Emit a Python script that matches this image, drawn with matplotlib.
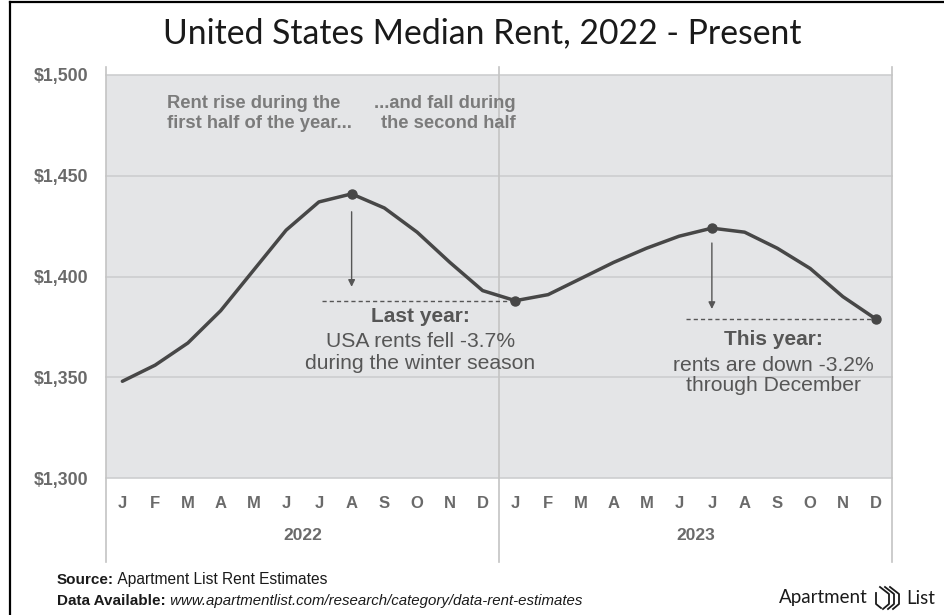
import matplotlib
matplotlib.use("Agg")
import matplotlib.pyplot as plt
from matplotlib.lines import Line2D
from matplotlib import font_manager

# Datos
MONTHS = ["J", "F", "M", "A", "M", "J", "J", "A", "S", "O", "N", "D"]
YEARS = ["2022", "2023"]
RENT_2022 = [1348, 1356, 1367, 1383, 1403, 1423, 1437, 1441, 1434, 1422, 1407, 1393]
RENT_2023 = [1388, 1391, 1399, 1407, 1414, 1420, 1424, 1422, 1414, 1404, 1390, 1379]
Y_TICKS = [1300, 1350, 1400, 1450, 1500]
Y_LABELS = ["$1,300", "$1,350", "$1,400", "$1,450", "$1,500"]

W, H = 944, 615
BG = "#e4e5e7"
GRID = "#cdcecf"
TICK_C = "#6a6a6a"
NOTE_C = "#7b7b7b"
TEXT_C = "#565656"
LINE_C = "#474747"

names = {f.name for f in font_manager.fontManager.ttflist}
SANS = "Liberation Sans"
NARROW = "Liberation Sans Narrow" if "Liberation Sans Narrow" in names else SANS
TITLE_F = "Lato"

rent = RENT_2022 + RENT_2023
x = list(range(len(rent)))
labels = MONTHS * 2

fig = plt.figure(figsize=(W / 100, H / 100), dpi=100)
ax = fig.add_axes([106 / W, 1 - 478 / H, 786 / W, 403 / H])
ax.set_facecolor(BG)
ax.set_xlim(-0.5, 23.5)
ax.set_ylim(1300, 1500)
for s in ax.spines.values():
    s.set_visible(False)

ax.set_yticks(Y_TICKS)
ax.set_yticklabels(Y_LABELS, fontfamily=SANS, fontweight="bold", fontsize=12.8, color=TICK_C)
ax.set_xticks(x)
ax.set_xticklabels(labels, fontfamily=SANS, fontweight="bold", fontsize=12, color=TICK_C)
ax.tick_params(axis="both", length=0)
ax.tick_params(axis="y", pad=13)
ax.tick_params(axis="x", pad=13)
for yv in Y_TICKS:
    ax.axhline(yv, color=GRID, lw=1.2, zorder=1, clip_on=False)

# Líneas verticales de separación (se salen del área del gráfico)
tr = ax.get_xaxis_transform()
for xv in [-0.5, 11.5, 23.5]:
    ax.plot([xv, xv], [(478 - 67) / 403, (478 - 562) / 403], transform=tr,
            color="#c4c4c4", lw=1.2, clip_on=False, zorder=2)

for i, yr in enumerate(YEARS):
    ax.text(5.5 + 12 * i, (478 - 535) / 403, yr, transform=tr, ha="center", va="center",
            fontfamily=SANS, fontweight="bold", fontsize=12.5, color=TICK_C)

# Serie
ax.plot(x, rent, color=LINE_C, lw=2.5, solid_joinstyle="round", solid_capstyle="round", zorder=4)
marks = [7, 12, 18, 23]
ax.plot(marks, [rent[i] for i in marks], "o", color=LINE_C, ms=6.5, zorder=5)

# Flechas y líneas punteadas
ax.annotate("", xy=(7, 1393.5), xytext=(7, 1433.5),
            arrowprops=dict(arrowstyle="-|>", color=TEXT_C, lw=1, mutation_scale=10), zorder=3)
ax.annotate("", xy=(18, 1382.5), xytext=(18, 1418),
            arrowprops=dict(arrowstyle="-|>", color=TEXT_C, lw=1, mutation_scale=10), zorder=3)
ax.plot([6.1, 12], [rent[12], rent[12]], color=TEXT_C, lw=1, ls=(0, (3, 2.2)), zorder=3)
ax.plot([17.2, 23], [rent[23], rent[23]], color=TEXT_C, lw=1, ls=(0, (3, 2.2)), zorder=3)

# Textos
ax.text(1.36, 1481, "Rent rise during the\nfirst half of the year...", ha="left", va="center",
        fontfamily=SANS, fontweight="bold", fontsize=13.2, color=NOTE_C, linespacing=1.25)
ax.text(12.02, 1481, "...and fall during\nthe second half", ha="right", va="center",
        fontfamily=SANS, fontweight="bold", fontsize=13.2, color=NOTE_C, linespacing=1.25)

ax.text(9.1, 1380, "Last year:", ha="center", va="center",
        fontfamily=SANS, fontweight="bold", fontsize=15, color=TEXT_C)
ax.text(9.1, 1362.3, "USA rents fell -3.7%\nduring the winter season", ha="center", va="center",
        fontfamily=SANS, fontsize=15.2, color=TEXT_C, linespacing=1.15)
ax.text(19.88, 1368.6, "This year:", ha="center", va="center",
        fontfamily=SANS, fontweight="bold", fontsize=15, color=TEXT_C)
ax.text(19.88, 1351, "rents are down -3.2%\nthrough December", ha="center", va="center",
        fontfamily=SANS, fontsize=15.2, color=TEXT_C, linespacing=1.05)

# Título
fig.text(482 / W, 1 - 33 / H, "United States Median Rent, 2022 - Present", ha="center", va="center",
         fontfamily=TITLE_F, fontsize=24.3, color="#1a1a1a")

# Pie de página
t1 = fig.text(57 / W, 1 - 584 / H, "Source:", ha="left", va="baseline",
              fontfamily=NARROW, fontweight="bold", fontsize=11, color="#1a1a1a")
ax.annotate(" Apartment List Rent Estimates", xy=(1, 0), xycoords=t1, va="bottom",
            fontfamily=NARROW, fontsize=11.2, color="#1a1a1a", annotation_clip=False)
t2 = fig.text(57 / W, 1 - 605 / H, "Data Available:", ha="left", va="baseline",
              fontfamily=NARROW, fontweight="bold", fontsize=11, color="#1a1a1a")
ax.annotate(" www.apartmentlist.com/research/category/data-rent-estimates", xy=(1, 0),
            xycoords=t2, va="bottom", fontfamily=NARROW, fontstyle="italic", fontsize=10.8,
            color="#1a1a1a", annotation_clip=False)

# Logo
fig.text(868 / W, 1 - 598 / H, "Apartment", ha="right", va="center",
         fontfamily=TITLE_F, fontsize=13.5, color="#1a1a1a")
fig.text(906 / W, 1 - 598 / H, "List", ha="left", va="center",
         fontfamily=TITLE_F, fontsize=13.5, color="#1a1a1a")
for k in range(3):
    dx = 880 + 5 * k
    fig.add_artist(Line2D([(dx) / W, (dx + 9) / W, (dx + 9) / W, (dx + 3) / W],
                          [1 - 587 / H, 1 - 594 / H, 1 - 604 / H, 1 - 609 / H],
                          color="#1a1a1a", lw=1.3, solid_joinstyle="round"))
fig.add_artist(Line2D([876 / W, 876 / W, 881 / W], [1 - 593 / H, 1 - 604 / H, 1 - 608 / H],
                      color="#1a1a1a", lw=1.3))

# Marco de la imagen
fig.add_artist(Line2D([10 / W, 10 / W], [0, 1 - 2 / H], color="black", lw=1.6))
fig.add_artist(Line2D([10 / W, 1], [1 - 2 / H, 1 - 2 / H], color="black", lw=1.6))

fig.savefig("out.png", dpi=100)
